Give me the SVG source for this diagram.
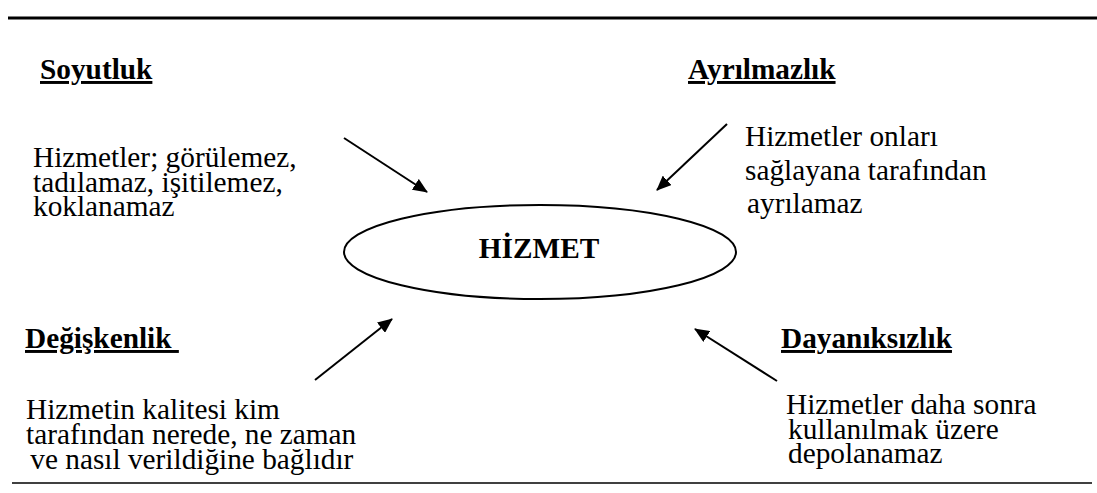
<svg xmlns="http://www.w3.org/2000/svg" width="1097" height="493" viewBox="0 0 1097 493">
<style>
.h{font-family:"Liberation Serif","Times New Roman",serif;font-weight:bold;font-size:29.3px;text-decoration:underline;fill:#000}
.t{font-family:"Liberation Serif","Times New Roman",serif;font-size:29.3px;fill:#000}
</style>
<defs>
<marker id="a" viewBox="0 0 15 13" refX="14" refY="6.5" markerWidth="15" markerHeight="13" markerUnits="userSpaceOnUse" orient="auto">
<path d="M0,0 L15,6.5 L0,13 z" fill="#000"/>
</marker>
</defs>
<line x1="8" y1="18" x2="1097" y2="18" stroke="#000" stroke-width="3"/>
<line x1="12" y1="483" x2="1092" y2="483" stroke="#000" stroke-width="1.6"/>
<g id="connectors" stroke="#000" stroke-width="2" fill="none">
<line x1="344" y1="138" x2="427" y2="192" marker-end="url(#a)"/>
<line x1="727" y1="124" x2="657" y2="190" marker-end="url(#a)"/>
<line x1="315" y1="380" x2="392" y2="319" marker-end="url(#a)"/>
<line x1="777" y1="381" x2="695" y2="329" marker-end="url(#a)"/>
</g>
<g id="hizmet">
<ellipse cx="540" cy="252" rx="196" ry="47" fill="none" stroke="#000" stroke-width="2"/>
<text x="539" y="258" text-anchor="middle" class="h" style="text-decoration:none">HİZMET</text>
</g>
<g id="soyutluk">
<text class="h" x="40" y="79">Soyutluk</text>
<text class="t" x="33" y="167">Hizmetler; görülemez,</text>
<text class="t" x="33" y="191.5">tadılamaz, işitilemez,</text>
<text class="t" x="33" y="216">koklanamaz</text>
</g>
<g id="ayrilmazlik">
<text class="h" x="688" y="79">Ayrılmazlık</text>
<text class="t" x="745" y="146">Hizmetler onları</text>
<text class="t" x="745" y="179.5">sağlayana tarafından</text>
<text class="t" x="747" y="213">ayrılamaz</text>
</g>
<g id="degiskenlik">
<text class="h" x="25" y="348" xml:space="preserve">Değişkenlik </text>
<text class="t" x="26" y="419">Hizmetin kalitesi kim</text>
<text class="t" x="26" y="444">tarafından nerede, ne zaman</text>
<text class="t" x="23" y="469" xml:space="preserve"> ve nasıl verildiğine bağlıdır</text>
</g>
<g id="dayaniksizlik">
<text class="h" x="781" y="348">Dayanıksızlık</text>
<text class="t" x="786" y="414">Hizmetler daha sonra</text>
<text class="t" x="788" y="438.5">kullanılmak üzere</text>
<text class="t" x="788" y="463">depolanamaz</text>
</g>
</svg>
